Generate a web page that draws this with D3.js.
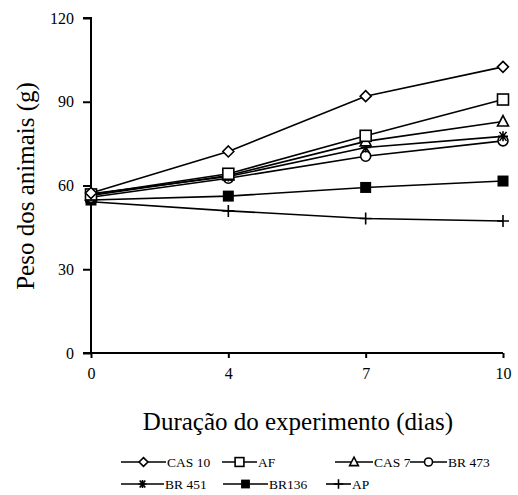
<!DOCTYPE html>
<html><head><meta charset="utf-8">
<script src="https://cdn.jsdelivr.net/npm/d3@7"></script>
<style>body{margin:0;background:#fff}svg{display:block}</style>
</head><body>
<script>
const days = ["0","4","7","10"];
const yTicks = [0,30,60,90,120];
const seriesNames = ["CAS 10","AF","CAS 7","BR 473","BR 451","BR136","AP"];
const symbols = ["diamond","square","triangle","circle","star","filledSquare","plus"];
const cas10 = [57.3,72.2,92.0,102.5];
const af = [56.8,64.2,77.8,90.8];
const cas7 = [56.4,63.6,75.8,82.9];
const br473 = [55.8,62.6,70.5,76.0];
const br451 = [57.0,63.2,73.6,77.6];
const br136 = [54.8,56.2,59.3,61.6];
const ap = [54.2,50.9,48.2,47.3];
const seriesValues = [cas10,af,cas7,br473,br451,br136,ap];

const FONT = "'Liberation Serif', 'Times New Roman', Times, serif";
const W=518,H=495;
const svg=d3.select("body").append("svg").attr("width",W).attr("height",H);
const x=d3.scalePoint().domain(days).range([91,503]);
const y=d3.scaleLinear().domain([0,120]).range([353,18]);

const ya=svg.append("g").attr("transform","translate(91,0)")
  .call(d3.axisLeft(y).tickValues(yTicks).tickSize(8).tickPadding(9));
const xa=svg.append("g").attr("transform","translate(0,353)")
  .call(d3.axisBottom(x).tickSize(5).tickPadding(10));
[ya,xa].forEach(a=>{a.attr("font-family",FONT).attr("font-size",16);
  a.select(".domain").attr("stroke","#000").attr("stroke-width",2);
  a.selectAll(".tick line").attr("stroke","#000").attr("stroke-width",2);
  a.selectAll("text").attr("font-size",16).style("font-family",FONT).attr("fill","#000");});
ya.select(".domain").attr("d","M-8,353H0V18H-8");
xa.select(".domain").attr("d","M83,0H503");

svg.append("text").attr("transform","translate(34,186) rotate(-90)").attr("text-anchor","middle")
  .style("font-family",FONT).attr("font-size",25).text("Peso dos animais (g)");
svg.append("text").attr("x",298).attr("y",430).attr("text-anchor","middle")
  .style("font-family",FONT).attr("font-size",25).text("Duração do experimento (dias)");

function marker(g,type,cx,cy,sc){
  sc=sc||1;
  const s=g.append("g").attr("transform",`translate(${cx},${cy}) scale(${sc})`);
  const st={stroke:"#000","stroke-width":1.6/sc,fill:"#fff"};
  const ap=(el)=>{for(const k in st) el.attr(k,st[k]); return el;};
  if(type==="diamond") ap(s.append("path").attr("d","M0,-5.5L5.5,0L0,5.5L-5.5,0Z"));
  else if(type==="square") ap(s.append("rect").attr("x",-5.5).attr("y",-5.5).attr("width",11).attr("height",11));
  else if(type==="triangle") ap(s.append("path").attr("d","M0,-6L5.5,4.5L-5.5,4.5Z"));
  else if(type==="circle") ap(s.append("circle").attr("r",5));
  else if(type==="filledSquare") s.append("rect").attr("x",-5.5).attr("y",-5.5).attr("width",11).attr("height",11).attr("fill","#000");
  else if(type==="star"){ s.append("path").attr("d","M-5,0H5M-3.5,-4.5L3.5,4.5M3.5,-4.5L-3.5,4.5M0,-5V5").attr("stroke","#000").attr("stroke-width",1.6/sc);}
  else if(type==="plus"){ s.append("path").attr("d","M-6,0H6M0,-6V6").attr("stroke","#000").attr("stroke-width",1.6/sc);}
}

const line=d3.line().x((d,i)=>x(days[i])).y(d=>y(d));
const order=[6,5,3,4,2,1,0];
order.forEach(k=>{
  svg.append("path").datum(seriesValues[k]).attr("d",line).attr("fill","none").attr("stroke","#000").attr("stroke-width",1.6);
});
order.forEach(k=>{
  const g=svg.append("g");
  seriesValues[k].forEach((v,i)=>marker(g,symbols[k],x(days[i]),y(v)));
});

// legend
const legendLayout=[[121,462],[222,462],[335,462],[410,462],[121,484],[223,484],[326,484]];
const legendLen=[45,35,38,37,43,45,25];
seriesNames.forEach((n,k)=>{
  const [lx,ly]=legendLayout[k], L=legendLen[k];
  const g=svg.append("g");
  g.append("line").attr("x1",lx).attr("x2",lx+L).attr("y1",ly).attr("y2",ly).attr("stroke","#000").attr("stroke-width",1.6);
  marker(g,symbols[k],lx+L/2,ly,0.8);
  g.append("text").attr("x",lx+L+1).attr("y",ly+4.5).style("font-family",FONT).attr("font-size",13.5).text(n);
});
</script>
</body></html>
